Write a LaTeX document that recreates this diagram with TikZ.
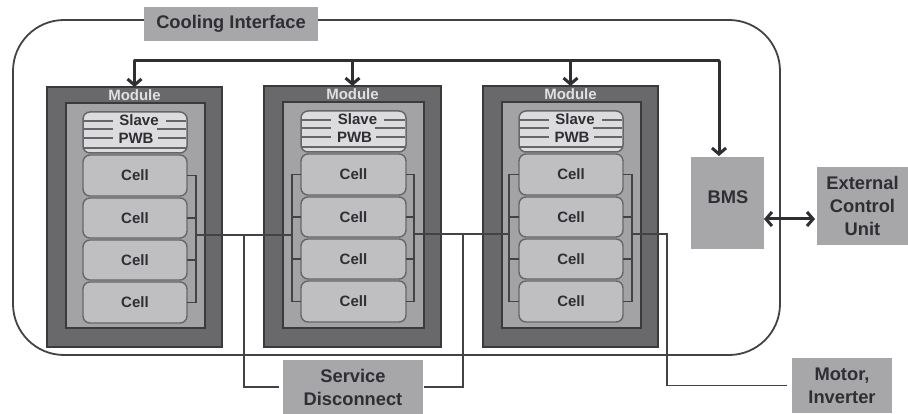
\documentclass[tikz,border=0pt]{standalone}
\usepackage{fontspec}
\setmainfont{Liberation Sans}
\usetikzlibrary{arrows.meta,calc}
\definecolor{ink}{HTML}{2E2E33}
\definecolor{wire}{HTML}{434346}
\definecolor{modfill}{HTML}{69696C}
\definecolor{modedge}{HTML}{3A3A3D}
\definecolor{innerfill}{HTML}{A3A3A6}
\definecolor{cellfill}{HTML}{BFBFC2}
\definecolor{celledge}{HTML}{66666A}
\definecolor{slavefill}{HTML}{DCDCDE}
\definecolor{boxfill}{HTML}{A7A7AA}
\tikzset{
  every node/.style={inner sep=0pt,outer sep=0pt,align=center},
  modulebox/.style={draw=modedge,line width=1.5pt,fill=modfill},
  innerbox/.style={draw=modedge,line width=2pt,fill=innerfill},
  slavebox/.style={draw=celledge,line width=1.5pt,fill=slavefill,rounded corners=7pt},
  cellbox/.style={draw=celledge,line width=1.4pt,fill=cellfill,rounded corners=7pt,text=ink,font=\fontsize{15}{15}\selectfont\bfseries},
  smalltxt/.style={text=ink,font=\fontsize{15}{15}\selectfont\bfseries},
  modtxt/.style={text=white!88!black,font=\fontsize{15}{15}\selectfont\bfseries},
  greybox/.style={fill=boxfill,text=ink,font=\fontsize{18.3}{23}\selectfont\bfseries},
  greytxt/.style={text=ink,font=\fontsize{18.3}{23}\selectfont\bfseries},
  enclosure/.style={draw=wire,line width=1.8pt,rounded corners=51pt},
  ctrlbus/.style={draw=ink,line width=3pt},
  ctrlarrow/.style={ctrlbus,-{Straight Barb[length=6pt,width=14pt,line width=3pt]}},
  extarrow/.style={ctrlbus,{Straight Barb[length=6pt,width=14pt,line width=3pt]}-{Straight Barb[length=6pt,width=14pt,line width=3pt]}},
  cable/.style={draw=wire,line width=1.6pt,line join=miter},
  slaveline/.style={draw=celledge,line width=1.3pt},
}
\newcommand{\boxnode}[7]{%
  \pgfmathsetmacro\bw{#5-#3}\pgfmathsetmacro\bh{#6-#4}%
  \pgfmathsetmacro\bx{(#3+#5)/2}\pgfmathsetmacro\by{(#4+#6)/2}%
  \node[#1,minimum width=\bw pt,minimum height=\bh pt] (#2) at (\bx,\by) {#7};}
% id, outer l, outer r, outer t, inner l, inner r, cell l, cell r, dy
\newcommand{\moduleunit}[9]{%
  \boxnode{modulebox}{#1}{#2}{#4}{#3}{347}{}
  \boxnode{innerbox}{#1i}{#5}{\the\numexpr#4+16\relax}{#6}{328}{}
  \node[modtxt] (#1t) at ($(#1.north)+(0,8.5)$) {Module};
  \boxnode{slavebox}{#1s}{#7}{\the\numexpr112+#9\relax}{#8}{\the\numexpr153+#9\relax}{}
  \foreach \ly/\ga/\gb in {9/30/83,17/30/74,26/30/75}{
    \draw[slaveline] ([shift={(1,\ly)}]#1s.north west) -- ([shift={(\ga,\ly)}]#1s.north west);
    \draw[slaveline] ([shift={(\gb,\ly)}]#1s.north west) -- ([shift={(-1,\ly)}]#1s.north east);
  }
  \draw[slaveline] ([shift={(1,36)}]#1s.north west) -- ([shift={(-1,36)}]#1s.north east);
  \node[smalltxt] (#1sa) at ($(#1s.north)+(4,8.5)$) {Slave};
  \node[smalltxt] (#1sb) at ($(#1s.north)+(1,26.5)$) {PWB};
  \boxnode{cellbox}{#1c1}{#7}{\the\numexpr155+#9\relax}{#8}{\the\numexpr196+#9\relax}{Cell}
  \boxnode{cellbox}{#1c2}{#7}{\the\numexpr198+#9\relax}{#8}{\the\numexpr238+#9\relax}{Cell}
  \boxnode{cellbox}{#1c3}{#7}{\the\numexpr240+#9\relax}{#8}{\the\numexpr280+#9\relax}{Cell}
  \boxnode{cellbox}{#1c4}{#7}{\the\numexpr282+#9\relax}{#8}{\the\numexpr323+#9\relax}{Cell}
}
% module id, side anchor, bus coordinate
\newcommand{\cellbus}[3]{%
  \draw[cable] (#1c1.#2) -- (#1c1.#2 -| #3) -- (#1c4.#2 -| #3) -- (#1c4.#2);
  \draw[cable] (#1c2.#2) -- (#1c2.#2 -| #3);
  \draw[cable] (#1c3.#2) -- (#1c3.#2 -| #3);
}
\begin{document}
\begin{tikzpicture}[x=1pt,y=-1pt]
\useasboundingbox (0,0) rectangle (908,414);
\fill[white] (0,0) rectangle (908,414);
\boxnode{enclosure}{pack}{13}{20}{780}{355}{}
\boxnode{greybox}{cool}{144}{7}{318}{41}{Cooling Interface}

\moduleunit{ma}{47}{222}{87}{66}{205}{83}{187}{0}
\moduleunit{mb}{264}{441}{86}{283}{424}{301}{406}{-1}
\moduleunit{mc}{483}{658}{86}{502}{641}{519}{623}{-1}

% control bus
\coordinate (busl) at (135,61);
\coordinate (busr) at (719,61);
\coordinate (bmsin) at (719,156);
\boxnode{greybox}{bms}{691}{157}{764}{249}{}
\node[greytxt] (bmst) at (728,197) {BMS};
\draw[ctrlbus,line cap=round] (ma.north |- busl) -- (busr);
\draw[ctrlarrow] (ma.north |- busl) -- (ma.north);
\draw[ctrlarrow] (mb.north |- busl) -- (mb.north);
\draw[ctrlarrow] (mc.north |- busl) -- (mc.north);
\draw[ctrlarrow] (busr) -- (bmsin);

% outside boxes
\boxnode{greybox}{ecu}{817}{167}{908}{245}{External\\Control\\Unit}
\boxnode{greybox}{sd}{283}{360}{423}{414}{Service\\Disconnect}
\boxnode{greybox}{motor}{792}{358}{892}{413}{Motor,\\Inverter}
\coordinate (bmsport) at (764,219);
\draw[extarrow,shorten >=2pt] (bmsport) -- (bmsport -| ecu.west);

% power wiring
\coordinate (ra) at (196,235);
\coordinate (lb) at (292,235);
\coordinate (rb) at (414,234);
\coordinate (lc) at (509,234);
\coordinate (rc) at (632,234);
\coordinate (mot) at (667,234);
\coordinate (sdl) at (244,235);
\coordinate (sdr) at (463,234);
\cellbus{ma}{east}{ra}
\cellbus{mb}{west}{lb}
\cellbus{mb}{east}{rb}
\cellbus{mc}{west}{lc}
\cellbus{mc}{east}{rc}
\draw[cable] (ra) -- (lb);
\draw[cable] (rb) -- (lc);
\draw[cable,shorten >=5pt] (rc) -- (mot) |- (motor.west);
\draw[cable,shorten >=4pt] (sdl) |- (sd.west);
\draw[cable,shorten >=1pt] (sdr) |- (sd.east);
\end{tikzpicture}
\end{document}
